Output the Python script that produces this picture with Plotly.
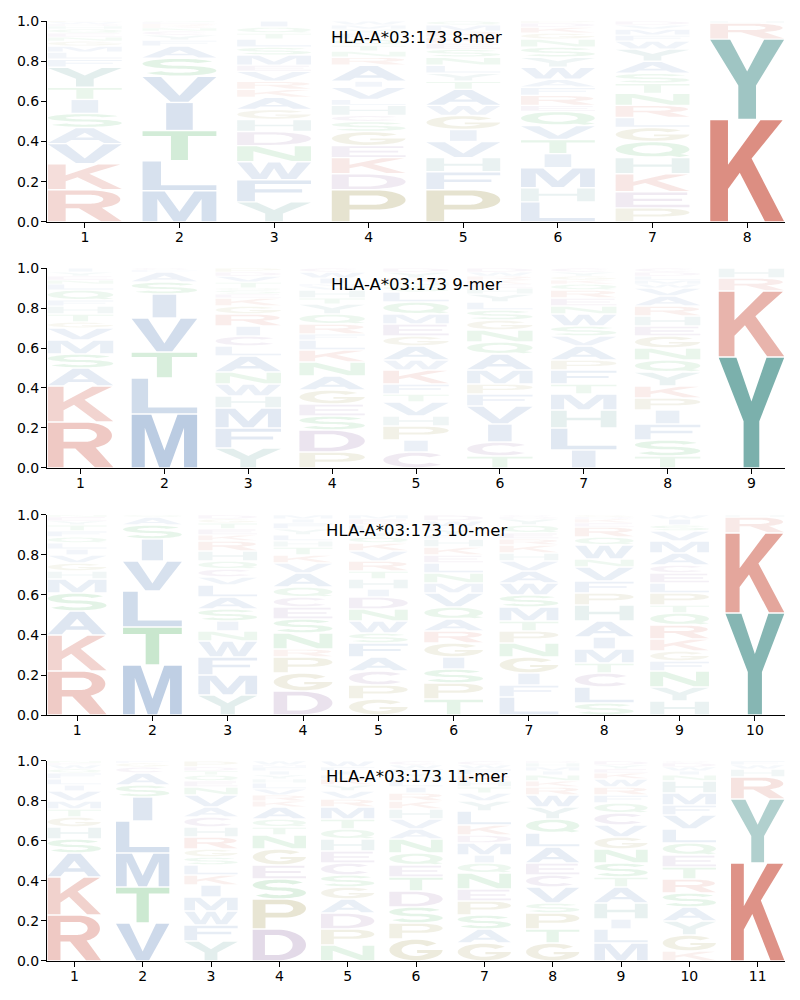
import numpy as np
import plotly.graph_objects as go

TITLES = ["HLA-A*03:173 8-mer", "HLA-A*03:173 9-mer",
          "HLA-A*03:173 10-mer", "HLA-A*03:173 11-mer"]

# letters listed bottom -> top for each position, with their frequencies
MER8_LETTERS = [
    "RKVASITYFLMGNEQHDWP",
    "MLTIVSAFYCNKREQ",
    "YFWNDHGAKRVEMSLTQI",
    "PDKEGSCHLVIARNTQFYMW",
    "PFHVIGWATYLNSEKRMQ",
    "LHMITVQERFAWYSNGKDP",
    "PEKHQGLRNTSAYWFMVD",
    "KYRH",
]
MER8_HEIGHTS = [
    [.16, .13, .10, .08, .07, .07, .06, .10, .04, .035, .03, .025, .02, .02, .02, .015, .01, .01, .005],
    [.155, .15, .15, .14, .13, .09, .06, .03, .025, .02, .015, .01, .01, .01, .005],
    [.10, .11, .09, .08, .07, .06, .05, .06, .04, .04, .05, .03, .05, .04, .04, .03, .03, .03],
    [.16, .08, .08, .06, .07, .05, .03, .05, .03, .06, .03, .08, .04, .03, .03, .03, .03, .02, .02, .02],
    [.16, .09, .07, .08, .06, .07, .05, .08, .04, .04, .04, .04, .04, .03, .03, .03, .03, .02],
    [.10, .07, .10, .07, .07, .07, .07, .03, .05, .04, .04, .06, .05, .05, .04, .03, .03, .02, .01],
    [.07, .08, .09, .08, .08, .07, .05, .06, .06, .05, .05, .06, .06, .04, .03, .03, .02, .02],
    [.51, .40, .08, .01],
]

MER9_LETTERS = [
    "RKASMVGTHFQLNEYI",
    "MLTVISAFC",
    "YFMHWNALCIRGKESQTVDP",
    "PDSEGANKLFRQYTHVMIWC",
    "CIPHVTFKWAGEMQLSNRYD",
    "TCIVFPMAQNGSLYHEKRWD",
    "ILHMTFPAVSWNERQKGYC",
    "TSFIPKYQNGEHRAVWMLDC",
    "YKRH",
]
MER9_HEIGHTS = [
    [.23, .18, .09, .07, .07, .06, .03, .04, .04, .03, .05, .03, .02, .02, .02, .02],
    [.27, .18, .13, .17, .12, .06, .05, .01, .01],
    [.10, .10, .10, .06, .06, .06, .08, .05, .05, .05, .06, .04, .04, .02, .02, .01, .03, .03, .02, .02],
    [.08, .11, .07, .06, .07, .07, .07, .06, .05, .03, .05, .05, .05, .03, .04, .02, .01, .03, .03, .02],
    [.08, .06, .07, .05, .07, .04, .05, .07, .05, .07, .05, .06, .05, .06, .05, .03, .02, .02, .03, .02],
    [.06, .07, .09, .09, .06, .05, .07, .08, .06, .06, .05, .05, .04, .04, .03, .02, .02, .02, .02, .02],
    [.09, .11, .09, .08, .05, .07, .05, .07, .05, .05, .06, .04, .04, .04, .03, .02, .02, .02, .02],
    [.06, .08, .08, .07, .06, .06, .07, .06, .06, .06, .05, .05, .05, .05, .04, .02, .02, .02, .02, .02],
    [.555, .33, .065, .05],
]

MER10_LETTERS = [
    "RKASMHGVILQFTYEN",
    "MTLVISAQ",
    "YMFWNISALVCQHRKETGD",
    "DGPRNSECQAVKTHLYFIM",
    "GPCAFSWNDIHTRVKQYLEM",
    "TPSIGRAQVMNLEKHFYCWD",
    "LFIGNPTMSWAVHKREQYDC",
    "SLCTMIAHPFVNWQREKDG",
    "HYNFGKRQTPLECAMVSIW",
    "YKRH",
]
MER10_HEIGHTS = [
    [.22, .18, .12, .09, .07, .04, .04, .04, .03, .03, .03, .03, .03, .02, .02, .01],
    [.25, .19, .18, .15, .11, .07, .04, .01],
    [.10, .10, .09, .08, .05, .05, .06, .06, .06, .04, .04, .04, .05, .05, .03, .03, .03, .02, .02],
    [.12, .09, .08, .04, .08, .07, .06, .05, .05, .07, .05, .04, .04, .03, .03, .03, .03, .02, .02],
    [.08, .07, .07, .07, .07, .05, .06, .06, .06, .04, .05, .04, .05, .05, .04, .03, .03, .03, .03, .02],
    [.08, .08, .07, .06, .07, .06, .06, .06, .07, .05, .05, .05, .04, .04, .04, .02, .03, .01, .03, .03],
    [.09, .06, .06, .08, .07, .06, .05, .07, .06, .06, .06, .05, .04, .04, .03, .03, .04, .03, .01, .01],
    [.06, .08, .07, .05, .07, .06, .08, .08, .06, .06, .07, .04, .07, .04, .05, .02, .02, .01, .01],
    [.07, .07, .08, .05, .05, .06, .07, .06, .04, .06, .05, .05, .04, .06, .06, .05, .03, .03, .02],
    [.51, .40, .08, .01],
]

MER11_LETTERS = [
    "RKASHGTMVILFQWEN",
    "VTMLISACGF",
    "YFWMIKLSGRHCAVNEQTDP",
    "DPSEGNTQAKRVLHYIFMW",
    "NPDAGSCEHQTMRVYKLIFW",
    "GPSDTEQNAVHKRILMYFWC",
    "GASPENQIMDKLYVTHRFWC",
    "GTPSVCEALQYWRKNIMHD",
    "MLIHATSNGVCQFRWKEYD",
    "KGYASRTEQLVFMHNIWDC",
    "KYRHWF",
]
MER11_HEIGHTS = [
    [.23, .19, .12, .07, .06, .05, .04, .04, .05, .03, .03, .03, .02, .02, .01, .01],
    [.19, .18, .17, .16, .12, .06, .06, .03, .02, .01],
    [.10, .08, .07, .07, .06, .05, .05, .04, .04, .06, .05, .05, .05, .06, .04, .03, .03, .02, .02, .03],
    [.16, .15, .10, .07, .08, .07, .04, .04, .06, .03, .03, .03, .03, .02, .02, .02, .02, .01, .02],
    [.08, .08, .08, .07, .06, .06, .06, .06, .06, .05, .05, .06, .04, .04, .03, .03, .02, .02, .02, .03],
    [.11, .08, .08, .08, .07, .06, .06, .07, .05, .05, .05, .04, .04, .03, .03, .02, .02, .02, .02, .02],
    [.09, .07, .07, .07, .06, .08, .05, .04, .06, .04, .05, .07, .05, .04, .03, .03, .03, .03, .02, .02],
    [.09, .07, .08, .05, .08, .06, .06, .08, .07, .07, .06, .06, .04, .03, .03, .02, .02, .02, .01],
    [.09, .07, .05, .08, .08, .05, .07, .07, .06, .06, .06, .05, .04, .04, .04, .03, .02, .02, .02],
    [.05, .08, .07, .07, .07, .07, .06, .06, .06, .07, .07, .05, .06, .06, .03, .02, .02, .02, .01],
    [.49, .32, .11, .04, .02, .02],
]

PANELS = [(MER8_LETTERS, MER8_HEIGHTS), (MER9_LETTERS, MER9_HEIGHTS),
          (MER10_LETTERS, MER10_HEIGHTS), (MER11_LETTERS, MER11_HEIGHTS)]

# ---------------- styling -----------------
GROUP_COLORS = {
    "KR": (205, 92, 75),
    "YH": (80, 150, 145),
    "AVLIMFW": (75, 120, 180),
    "STNQ": (60, 170, 80),
    "DEC": (140, 100, 160),
    "PG": (150, 140, 60),
}
LETTER_COLOR = {ch: c for grp, c in GROUP_COLORS.items() for ch in grp}
DOMAINS = [(0.7862, 1.0), (0.5245, 0.7372), (0.2617, 0.4745), (0.0, 0.2128)]
HALF_W = 0.39
FONT = "DejaVu Sans"


# ---------------- glyph outlines (unit box) -----------------
def ell(cx, cy, rx, ry, a0, a1, n=28):
    t = np.radians(np.linspace(a0, a1, n))
    return [(cx + rx * np.cos(a), cy + ry * np.sin(a)) for a in t]


def stroke(center, hx, hy):
    c = np.asarray(center, dtype=float)
    s = c / np.array([hx, hy])
    d = np.gradient(s, axis=0)
    d /= np.linalg.norm(d, axis=1, keepdims=True)
    nrm = np.stack([-d[:, 1], d[:, 0]], axis=1)
    left = (s + nrm) * np.array([hx, hy])
    right = (s - nrm) * np.array([hx, hy])
    return [tuple(p) for p in np.vstack([left, right[::-1]])]


def build_glyphs():
    g = {}
    g["A"] = [([(0, 0), (0.24, 0), (0.316, 0.2), (0.684, 0.2), (0.76, 0), (1, 0), (0.62, 1), (0.38, 1)], False),
              ([(0.377, 0.36), (0.623, 0.36), (0.5, 0.684)], True)]
    g["C"] = [(ell(0.5, 0.5, 0.5, 0.5, 40, 320) + ell(0.5, 0.5, 0.27, 0.29, 320, 40), False)]
    g["D"] = [([(0, 0), (0.45, 0)] + ell(0.45, 0.5, 0.55, 0.5, -90, 90) + [(0, 1)], False),
              ([(0.23, 0.17), (0.45, 0.17)] + ell(0.45, 0.5, 0.3, 0.33, -90, 90) + [(0.23, 0.83)], True)]
    g["E"] = [([(0, 0), (1, 0), (1, 0.17), (0.24, 0.17), (0.24, 0.42), (0.9, 0.42), (0.9, 0.58),
                (0.24, 0.58), (0.24, 0.83), (0.97, 0.83), (0.97, 1), (0, 1)], False)]
    g["F"] = [([(0, 0), (0.24, 0), (0.24, 0.42), (0.88, 0.42), (0.88, 0.58), (0.24, 0.58),
                (0.24, 0.83), (1, 0.83), (1, 1), (0, 1)], False)]
    g["G"] = [(ell(0.5, 0.5, 0.5, 0.5, 40, 360) + [(0.52, 0.5), (0.52, 0.36), (0.736, 0.36)]
               + ell(0.5, 0.5, 0.27, 0.29, 331.1, 40), False)]
    g["H"] = [([(0, 0), (0.24, 0), (0.24, 0.42), (0.76, 0.42), (0.76, 0), (1, 0), (1, 1), (0.76, 1),
                (0.76, 0.58), (0.24, 0.58), (0.24, 1), (0, 1)], False)]
    g["I"] = [([(0.32, 0), (0.68, 0), (0.68, 1), (0.32, 1)], False)]
    g["K"] = [([(0, 0), (0.24, 0), (0.24, 0.32), (0.40, 0.48), (0.74, 0), (1, 0), (0.56, 0.62),
                (0.98, 1), (0.68, 1), (0.24, 0.56), (0.24, 1), (0, 1)], False)]
    g["L"] = [([(0, 0), (1, 0), (1, 0.17), (0.25, 0.17), (0.25, 1), (0, 1)], False)]
    g["M"] = [([(0, 0), (0.2, 0), (0.2, 0.75), (0.42, 0), (0.58, 0), (0.8, 0.75), (0.8, 0), (1, 0),
                (1, 1), (0.7, 1), (0.5, 0.32), (0.3, 1), (0, 1)], False)]
    g["N"] = [([(0, 0), (0.22, 0), (0.22, 0.66), (0.74, 0), (1, 0), (1, 1), (0.78, 1), (0.78, 0.34),
                (0.26, 1), (0, 1)], False)]
    g["P"] = [([(0, 0), (0.24, 0), (0.24, 0.38), (0.6, 0.38)] + ell(0.6, 0.69, 0.4, 0.31, -90, 90) + [(0, 1)], False),
              ([(0.24, 0.54), (0.58, 0.54)] + ell(0.58, 0.69, 0.18, 0.15, -90, 90) + [(0.24, 0.84)], True)]
    g["Q"] = [(ell(0.5, 0.52, 0.5, 0.48, 0, 360, 48), False),
              (ell(0.5, 0.52, 0.27, 0.28, 0, 360, 40), True),
              ([(0.56, 0.24), (0.70, 0.35), (1.0, 0.1), (0.86, 0.0)], False)]
    g["R"] = [([(0, 0), (0.24, 0), (0.24, 0.42), (0.42, 0.42), (0.72, 0), (1, 0)]
               + ell(0.58, 0.71, 0.4, 0.29, -68, 90) + [(0, 1)], False),
              ([(0.24, 0.57), (0.56, 0.57)] + ell(0.56, 0.715, 0.19, 0.145, -90, 90) + [(0.24, 0.86)], True)]
    center = ell(0.5, 0.7075, 0.38, 0.2075, 25, 270, 40) + ell(0.5, 0.2925, 0.38, 0.2075, 90, -155, 40)[1:]
    g["S"] = [(stroke(center, 0.12, 0.085), False)]
    g["T"] = [([(0.385, 0), (0.615, 0), (0.615, 0.83), (1, 0.83), (1, 1), (0, 1), (0, 0.83), (0.385, 0.83)], False)]
    g["V"] = [([(0, 1), (0.25, 1), (0.5, 0.24), (0.75, 1), (1, 1), (0.62, 0), (0.38, 0)], False)]
    g["W"] = [([(0, 1), (0.19, 1), (0.31, 0.3), (0.42, 1), (0.58, 1), (0.69, 0.3), (0.81, 1), (1, 1),
                (0.8, 0), (0.6, 0), (0.5, 0.65), (0.4, 0), (0.2, 0)], False)]
    g["Y"] = [([(0, 1), (0.27, 1), (0.5, 0.6), (0.73, 1), (1, 1), (0.62, 0.42), (0.62, 0), (0.38, 0),
                (0.38, 0.42)], False)]
    # orient: outer contours CCW, holes CW (for nonzero fill rule)
    out = {}
    for ch, conts in g.items():
        fixed = []
        for pts, hole in conts:
            arr = np.asarray(pts, dtype=float)
            x, y = arr[:, 0], arr[:, 1]
            area = 0.5 * np.sum(x * np.roll(y, -1) - np.roll(x, -1) * y)
            if (area > 0) == hole:
                arr = arr[::-1]
            fixed.append(arr)
        out[ch] = fixed
    return out


GLYPHS = build_glyphs()


def letter_path(ch, xc, y0, h):
    pad = min(0.0035, h * 0.1)
    parts = []
    for arr in GLYPHS[ch]:
        xs = xc - HALF_W + arr[:, 0] * 2 * HALF_W
        ys = y0 + pad + arr[:, 1] * (h - 2 * pad)
        seg = "M" + " L".join(f"{a:.4f},{b:.4f}" for a, b in zip(xs, ys)) + " Z"
        parts.append(seg)
    return " ".join(parts)


fig = go.Figure()
shapes = []
annotations = []
axis_common = dict(showline=True, linecolor="black", linewidth=1.1, ticks="outside", ticklen=5,
                   tickwidth=1, tickcolor="black", showgrid=False, zeroline=False, mirror=False,
                   tickfont=dict(family=FONT, size=14, color="black"), fixedrange=True)

for k, (letters_list, heights_list) in enumerate(PANELS):
    sfx = "" if k == 0 else str(k + 1)
    xr, yr = "x" + sfx, "y" + sfx
    for pos, (letters, hs) in enumerate(zip(letters_list, heights_list, strict=True), start=1):
        y0 = 0.0
        for ch, h in zip(letters, hs, strict=True):
            r, g_, b = LETTER_COLOR[ch]
            alpha = min(1.0, 0.03 + 1.3 * h)
            shapes.append(dict(type="path", path=letter_path(ch, pos, y0, h), xref=xr, yref=yr,
                               fillcolor=f"rgba({r},{g_},{b},{alpha:.3f})", line=dict(width=0),
                               fillrule="nonzero", layer="above"))
            y0 += h
    n = len(letters_list)
    fig.add_trace(go.Scatter(x=[], y=[], xaxis=xr, yaxis=yr, showlegend=False, hoverinfo="skip"))
    fig.update_layout({
        ("xaxis" + sfx): dict(domain=[0, 1], anchor=yr, range=[0.6, n + 0.4],
                              tickmode="array", tickvals=list(range(1, n + 1)),
                              ticktext=[str(i) for i in range(1, n + 1)],
                              ticklabelstandoff=-3, **axis_common),
        ("yaxis" + sfx): dict(domain=list(DOMAINS[k]), anchor=xr, range=[0, 1],
                              tickmode="array", tickvals=[0, 0.2, 0.4, 0.6, 0.8, 1.0],
                              tickformat=".1f", ticklabelstandoff=-1, **axis_common),
    })
    annotations.append(dict(text=TITLES[k], xref=xr + " domain", yref=yr + " domain", x=0.5, y=0.92,
                            xanchor="center", yanchor="middle", showarrow=False,
                            font=dict(family=FONT, size=16.5, color="black")))

fig.update_layout(width=800, height=1000, margin=dict(l=47, r=15, t=21, b=39),
                  paper_bgcolor="white", plot_bgcolor="white", showlegend=False,
                  hovermode=False, shapes=shapes, annotations=annotations,
                  font=dict(family=FONT, color="black"))

fig.write_html("out.html")
